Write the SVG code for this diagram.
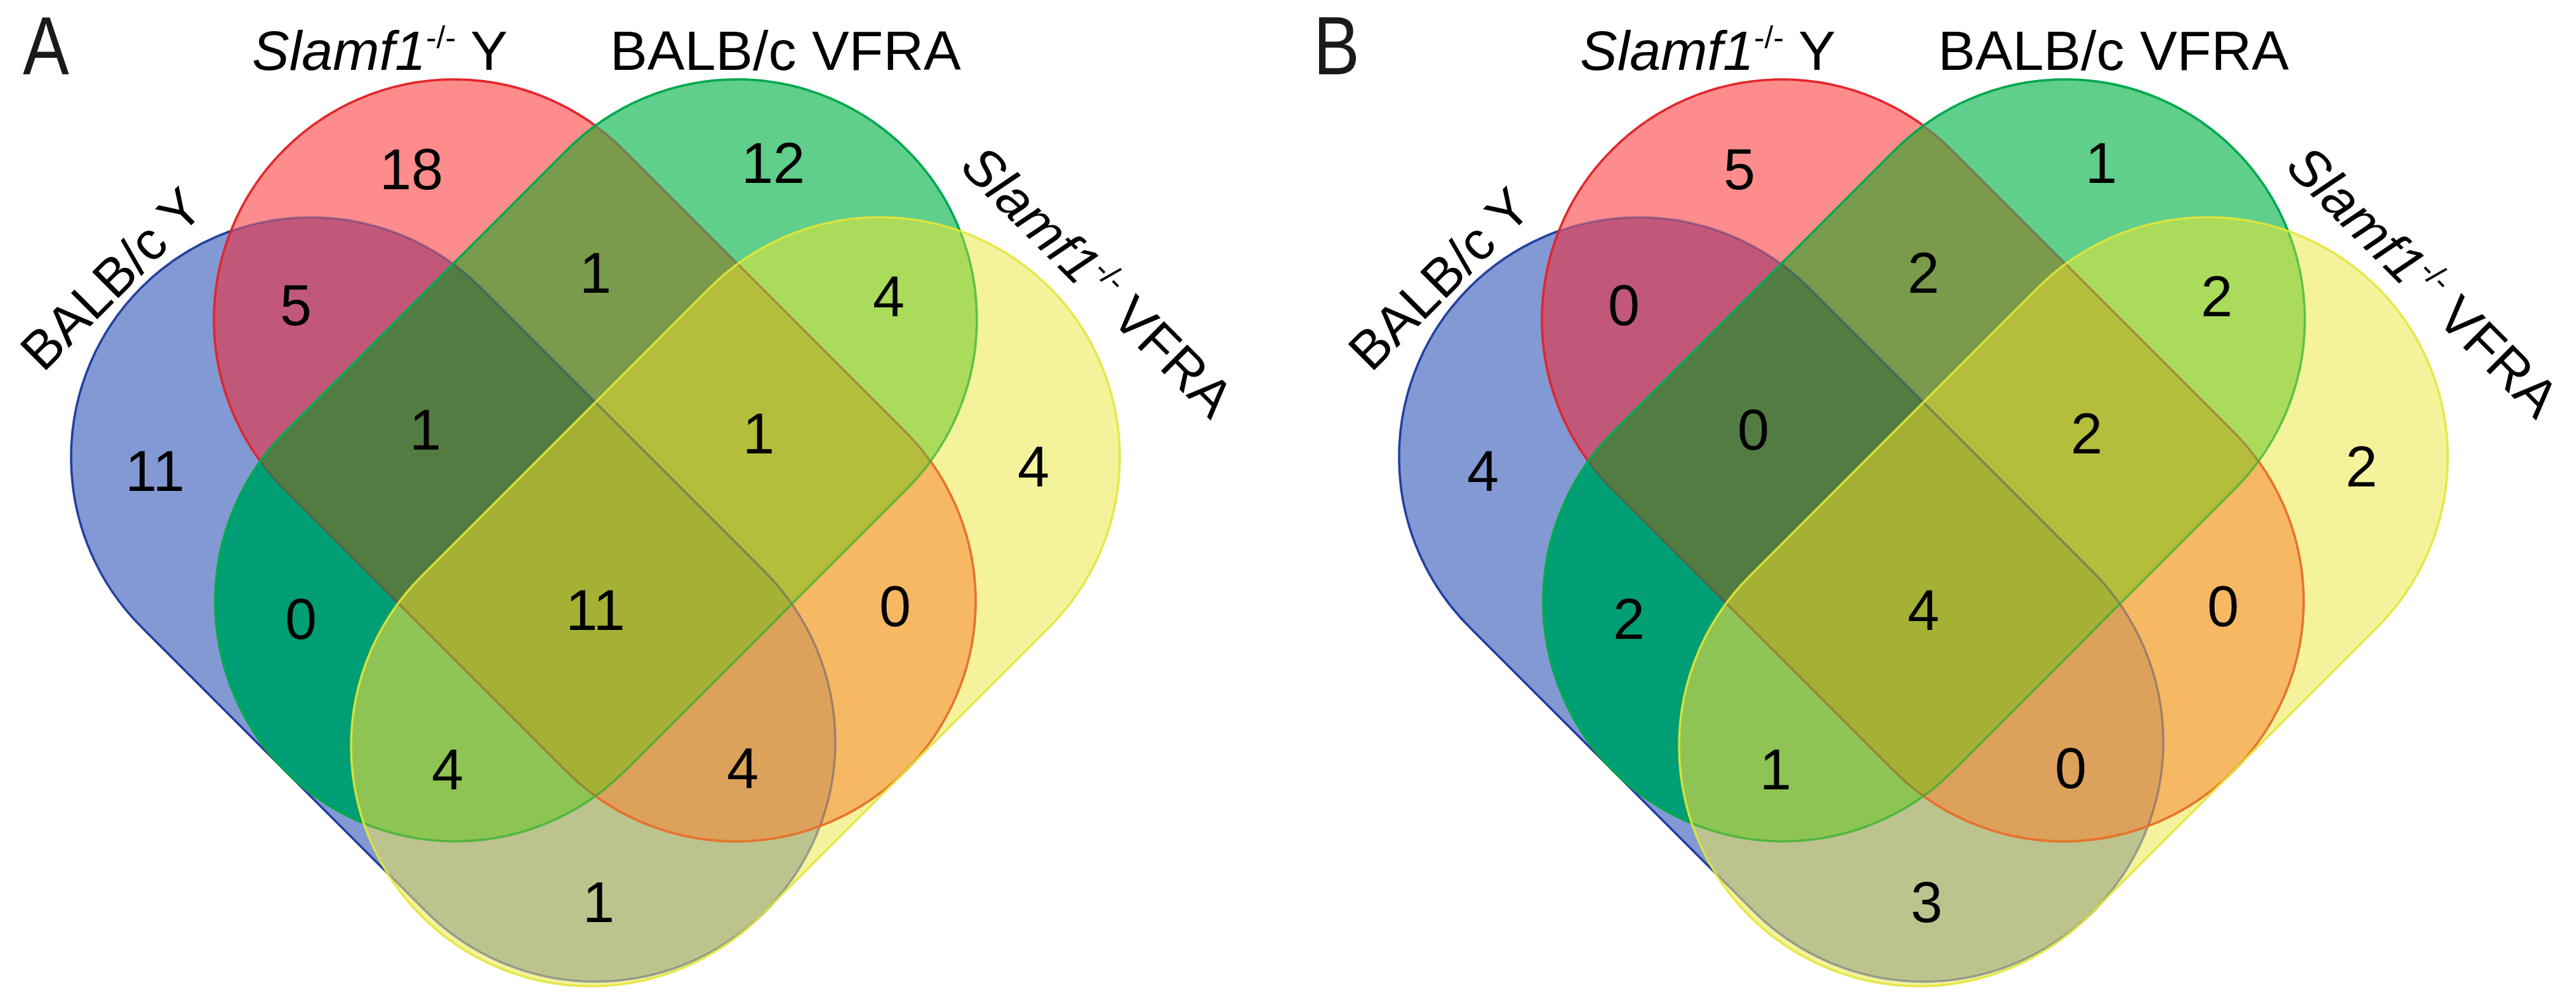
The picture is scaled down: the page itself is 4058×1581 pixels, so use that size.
<svg xmlns="http://www.w3.org/2000/svg" xmlns:xlink="http://www.w3.org/1999/xlink" width="4058" height="1581" viewBox="0 0 4058 1581">
<style>
.num{font-family:"Liberation Sans",Arial,sans-serif;font-size:90px;text-anchor:middle;fill:#000}
.lbl{font-family:"Liberation Sans",Arial,sans-serif;font-size:88px;fill:#000}
.rot{font-size:85px}
.it{font-style:italic}
.sup{font-size:50px}
.pl{font-family:"Liberation Sans",Arial,sans-serif;font-size:130px;fill:#1a1a1a}
</style>
<defs>
<rect id="sB" x="-694.8" y="-378" width="1389.6" height="756" rx="378" transform="translate(714 944) rotate(45)"/>
<rect id="sR" x="-691.96" y="-378" width="1383.92" height="756" rx="378" transform="translate(937 725) rotate(45)"/>
<rect id="sG" x="-691.96" y="-378" width="1383.92" height="756" rx="378" transform="translate(939 725) rotate(-45)"/>
<rect id="sY" x="-699.75" y="-378" width="1399.5" height="756" rx="378" transform="translate(1158.5 947.5) rotate(-45)"/>
<clipPath id="cB"><use xlink:href="#sB"/></clipPath>
<clipPath id="cR"><use xlink:href="#sR"/></clipPath>
<clipPath id="cG"><use xlink:href="#sG"/></clipPath>
<mask id="mNotRGY" maskUnits="userSpaceOnUse" x="0" y="0" width="2100" height="1581"><rect x="0" y="0" width="2100" height="1581" fill="#fff"/><use xlink:href="#sR" fill="#000"/><use xlink:href="#sG" fill="#000"/><use xlink:href="#sY" fill="#000"/></mask>
<mask id="mNotGY" maskUnits="userSpaceOnUse" x="0" y="0" width="2100" height="1581"><rect x="0" y="0" width="2100" height="1581" fill="#fff"/><use xlink:href="#sG" fill="#000"/><use xlink:href="#sY" fill="#000"/></mask>
<mask id="mYnotG" maskUnits="userSpaceOnUse" x="0" y="0" width="2100" height="1581"><use xlink:href="#sY" fill="#fff"/><use xlink:href="#sG" fill="#000"/></mask>
<mask id="mNotY" maskUnits="userSpaceOnUse" x="0" y="0" width="2100" height="1581"><rect x="0" y="0" width="2100" height="1581" fill="#fff"/><use xlink:href="#sY" fill="#000"/></mask>
</defs>
<rect x="0" y="0" width="4058" height="1581" fill="#fff"/>
<g id="vennA">
<g id="regions">
<use xlink:href="#sB" fill="#8299D4"/>
<use xlink:href="#sR" fill="#FF8C8C"/>
<use xlink:href="#sG" fill="#5FCF8B"/>
<use xlink:href="#sY" fill="#F4F39B"/>
<g clip-path="url(#cB)"><use xlink:href="#sR" fill="#C15879"/></g>
<g clip-path="url(#cB)"><use xlink:href="#sG" fill="#009E74"/></g>
<g clip-path="url(#cB)"><use xlink:href="#sY" fill="#BDC38C"/></g>
<g clip-path="url(#cR)"><use xlink:href="#sG" fill="#7A9A4C"/></g>
<g clip-path="url(#cR)"><use xlink:href="#sY" fill="#F6B862"/></g>
<g clip-path="url(#cG)"><use xlink:href="#sY" fill="#AADB5B"/></g>
<g clip-path="url(#cB)"><g clip-path="url(#cR)"><use xlink:href="#sG" fill="#537C43"/></g></g>
<g clip-path="url(#cB)"><g clip-path="url(#cR)"><use xlink:href="#sY" fill="#DCA15A"/></g></g>
<g clip-path="url(#cB)"><g clip-path="url(#cG)"><use xlink:href="#sY" fill="#8DC453"/></g></g>
<g clip-path="url(#cR)"><g clip-path="url(#cG)"><use xlink:href="#sY" fill="#B5BD3D"/></g></g>
<g clip-path="url(#cB)"><g clip-path="url(#cR)"><g clip-path="url(#cG)"><use xlink:href="#sY" fill="#A5B134"/></g></g></g>
</g>
<g id="outlines" fill="none" stroke-width="3.5">
<use xlink:href="#sB" stroke="#1C2F80" stroke-opacity="0.35"/>
<use xlink:href="#sB" stroke="#2340A0" mask="url(#mNotRGY)"/>
<use xlink:href="#sR" stroke="#8A2030" stroke-opacity="0.35"/>
<use xlink:href="#sR" stroke="#E3262B" mask="url(#mNotGY)"/>
<use xlink:href="#sR" stroke="#E8742C" mask="url(#mYnotG)"/>
<use xlink:href="#sG" stroke="#2DB030" stroke-opacity="0.7"/>
<use xlink:href="#sG" stroke="#00A84F" mask="url(#mNotY)"/>
<use xlink:href="#sY" stroke="#E2E638" stroke-opacity="0.9"/>
</g>
</g>
<use id="vennB" xlink:href="#vennA" transform="translate(2092 0)"/>
<g id="textA">
<text class="pl" transform="translate(36 117) scale(0.84 1)">A</text>
<text class="lbl" x="397" y="110"><tspan class="it">Slamf1</tspan><tspan class="sup" dy="-34">-/-</tspan><tspan dy="34"> Y</tspan></text>
<text class="lbl" x="961" y="110">BALB/c VFRA</text>
<text class="lbl rot" transform="translate(68 588) rotate(-45)">BALB/c Y</text>
<text class="lbl rot" transform="translate(1510 265) rotate(45)"><tspan class="it">Slamf1</tspan><tspan class="sup" dy="-33">-/-</tspan><tspan dy="33"> VFRA</tspan></text>
<text class="num" x="648" y="298">18</text>
<text class="num" x="1218" y="288">12</text>
<text class="num" x="466" y="512">5</text>
<text class="num" x="938" y="461">1</text>
<text class="num" x="670" y="708">1</text>
<text class="num" x="1195" y="714">1</text>
<text class="num" x="244" y="773">11</text>
<text class="num" x="1628" y="766">4</text>
<text class="num" x="1400" y="498">4</text>
<text class="num" x="1410" y="986">0</text>
<text class="num" x="474" y="1006">0</text>
<text class="num" x="938" y="992">11</text>
<text class="num" x="705" y="1243">4</text>
<text class="num" x="1170" y="1241">4</text>
<text class="num" x="943" y="1452">1</text>
</g>
<g id="textB">
<text class="pl" transform="translate(2069 117) scale(0.84 1)">B</text>
<text class="lbl" x="2489" y="110"><tspan class="it">Slamf1</tspan><tspan class="sup" dy="-34">-/-</tspan><tspan dy="34"> Y</tspan></text>
<text class="lbl" x="3053" y="110">BALB/c VFRA</text>
<text class="lbl rot" transform="translate(2160 588) rotate(-45)">BALB/c Y</text>
<text class="lbl rot" transform="translate(3598 265) rotate(45)"><tspan class="it">Slamf1</tspan><tspan class="sup" dy="-33">-/-</tspan><tspan dy="33"> VFRA</tspan></text>
<text class="num" x="2740" y="298">5</text>
<text class="num" x="3310" y="288">1</text>
<text class="num" x="2558" y="512">0</text>
<text class="num" x="3030" y="461">2</text>
<text class="num" x="2762" y="708">0</text>
<text class="num" x="3287" y="714">2</text>
<text class="num" x="2336" y="773">4</text>
<text class="num" x="3720" y="766">2</text>
<text class="num" x="3492" y="498">2</text>
<text class="num" x="3502" y="986">0</text>
<text class="num" x="2566" y="1006">2</text>
<text class="num" x="3030" y="992">4</text>
<text class="num" x="2797" y="1243">1</text>
<text class="num" x="3262" y="1241">0</text>
<text class="num" x="3035" y="1452">3</text>
</g>
</svg>
